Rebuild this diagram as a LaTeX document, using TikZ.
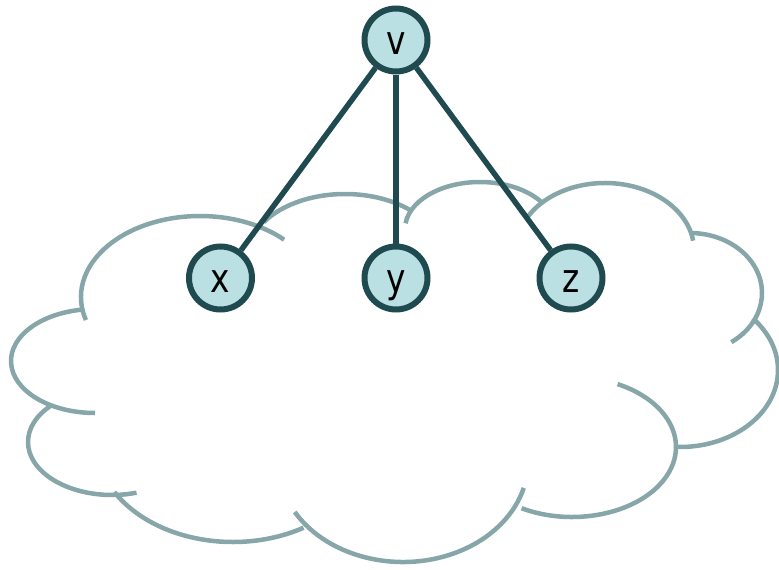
\documentclass[tikz,border=0pt]{standalone}
\usepackage{fontspec}
\setmainfont{DejaVu Sans}
\usepackage{graphicx}
\definecolor{nodefill}{HTML}{BAE0E3}
\definecolor{nodeline}{HTML}{1F4B50}
\definecolor{cloudline}{HTML}{87A6A9}
\tikzset{
  vertex/.style={circle, draw=nodeline, fill=nodefill, line width=6pt,
    minimum size=63pt, inner sep=0pt, text height=29pt, text depth=0pt,
    font=\fontsize{40}{40}\selectfont},
  link/.style={draw=nodeline, line width=5.5pt},
  cloudarc/.style={draw=cloudline, line width=4.5pt}
}
\newcommand{\lbl}[1]{\scalebox{0.82}[1]{#1}}
\newcommand{\carc}[6]{\draw[cloudarc] (#1,#2) ++(#5:#3 and #4) arc[start angle=#5, end angle=#6, x radius=#3, y radius=#4];}
\begin{document}
\begin{tikzpicture}[x=1pt, y=1pt, yscale=-1]
\useasboundingbox (0,0) rectangle (779,570);
% cloud lobes: center x, center y, rx, ry, start, end
\carc{200}{297}{119}{81}{163.5}{315}
\carc{95}{361}{84}{52}{262}{90}
\carc{112}{442}{84}{53}{224.5}{73}
\carc{233}{442}{137}{100}{150}{59}
\carc{403}{462}{125}{100}{150}{15}
\carc{572}{447}{104}{70}{119}{-64}
\carc{680}{370}{98}{77}{92}{-42}
\carc{690}{293}{72}{60}{55}{-88}
\carc{605}{250}{89}{67}{209}{352}
\carc{480}{229}{75}{47}{187}{326}
\carc{345}{256}{97}{62}{213}{312}
% nodes
\node[vertex] (v) at (396,40) {\lbl{v}};
\node[vertex] (x) at (220.5,278) {\lbl{x}};
\node[vertex] (y) at (396,278) {\lbl{y}};
\node[vertex] (z) at (571,278) {\lbl{z}};
% connectors
\draw[link] (v) -- (x);
\draw[link] (v) -- (y);
\draw[link] (v) -- (z);
\end{tikzpicture}
\end{document}
